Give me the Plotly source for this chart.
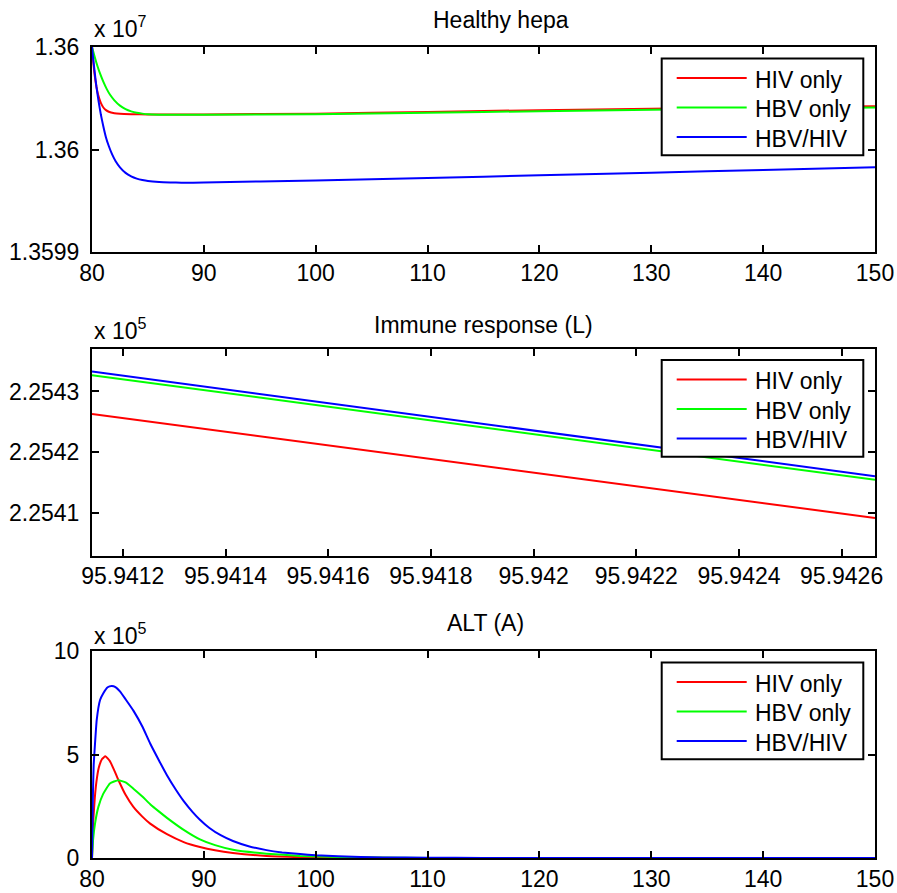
import plotly.graph_objects as go

# ---------------- data ----------------
series_names = ["HIV only", "HBV only", "HBV/HIV"]
series_colors = ["#ff0000", "#00ff00", "#0000ff"]

# Panel 1: Healthy hepatocytes
hepa_t_hiv = [80, 80.1, 80.2, 80.3, 80.4, 80.5, 80.65, 80.8, 81.0, 81.25, 81.5, 82.0, 82.5, 83.5, 85,
              87, 90, 100, 110, 120, 130, 140, 150]
hepa_hiv = [13600000, 13599935, 13599880, 13599838, 13599805, 13599778, 13599748, 13599726, 13599706,
            13599692, 13599684, 13599677, 13599674, 13599672, 13599671,
            13599671, 13599671, 13599675, 13599683, 13599692, 13599699, 13599706, 13599711]
hepa_t_hbv = [80, 80.25, 80.5, 80.75, 81.0, 81.3, 81.6, 82.0, 82.5, 83.0, 83.5, 84.0, 84.5, 85.0, 86.0,
              87.0, 90, 100, 110, 120, 130, 140, 150]
hepa_hbv = [13600000, 13599950, 13599905, 13599866, 13599832, 13599797, 13599768, 13599740, 13599714,
            13599697, 13599686, 13599679, 13599675, 13599672, 13599670,
            13599669, 13599669, 13599672, 13599679, 13599687, 13599694, 13599700, 13599705]
hepa_t_co = [80, 80.1, 80.25, 80.4, 80.6, 80.8, 81.0, 81.25, 81.5, 81.8, 82.1, 82.5, 83.0, 83.5, 84.0,
             84.5, 85.0, 86.0, 87.0, 88.0, 90, 100, 110, 120, 130, 140, 150]
hepa_co = [13600000, 13599945, 13599873, 13599805, 13599731, 13599668, 13599616, 13599559, 13599517,
           13599476, 13599444, 13599413, 13599386, 13599369, 13599358, 13599351, 13599346, 13599341,
           13599339, 13599338, 13599339, 13599349, 13599361, 13599374, 13599387, 13599400, 13599413]

# Panel 2: Immune response (L), zoomed window
imm_t = [95.94114, 95.942665]
imm_hiv = [225426.3, 225409.1]
imm_hbv = [225432.7, 225415.4]
imm_co = [225433.3, 225416.0]

# Panel 3: ALT (A)
alt_t_hiv = [80, 80.1, 80.25, 80.4, 80.6, 80.9, 81.2, 81.6, 82.0, 82.35, 83.0, 83.7, 84.5, 85.2, 86.7,
             88.2, 89.65, 91, 92.6, 95.6, 98.6, 102, 105, 110, 120, 130, 140, 150]
alt_hiv = [0, 170000, 290000, 370000, 435000, 478000, 492000, 468000, 422000, 378000, 305000, 247000,
           200000, 166000, 115000, 77000, 53000, 37000, 24000, 10000, 5000, 2000, 800, 200, 0, 0, 0, 0]
alt_t_hbv = [80, 80.1, 80.27, 80.57, 81.0, 81.6, 82.35, 83.0, 83.7, 84.5, 85.2, 86.0, 86.7, 88.2, 89.65,
             91, 92.6, 95.6, 98.6, 102, 105, 110, 120, 130, 140, 150]
alt_hbv = [0, 90000, 166000, 247000, 310000, 360000, 376000, 365000, 335000, 297000, 260000, 224000,
           194000, 136000, 90000, 62000, 40000, 21000, 10000, 5000, 2000, 500, 0, 0, 0, 0]
alt_t_co = [80, 80.08, 80.15, 80.27, 80.42, 80.72, 81.0, 81.4, 81.76, 82.1, 82.5, 83.0, 83.7, 84.5,
            85.2, 86.0, 86.7, 87.5, 88.2, 89.0, 89.65, 90.5, 91.5, 92.6, 94, 95.6, 97, 98.6, 100, 102,
            106, 110, 115, 120, 130, 140, 150]
alt_co = [0, 300000, 450000, 553000, 666000, 763000, 795000, 825000, 831000, 826000, 805000, 767000,
          712000, 635000, 553000, 470000, 400000, 330000, 275000, 222000, 185000, 145000, 110000, 82000,
          57000, 38000, 27000, 19000, 13000, 8000, 3000, 1200, 400, 0, 0, 0, 0]

titles = ["Healthy hepa", "Immune response (L)", "ALT (A)"]
exponents = ["7", "5", "5"]

x13_ticks = [80, 90, 100, 110, 120, 130, 140, 150]
x2_ticks = [95.9412, 95.9414, 95.9416, 95.9418, 95.9420, 95.9422, 95.9424, 95.9426]
x2_labels = ["95.9412", "95.9414", "95.9416", "95.9418", "95.942", "95.9422", "95.9424", "95.9426"]
y1_ticks = [13599000, 13599500, 13600000]
y1_labels = ["1.3599", "1.36", "1.36"]
y2_ticks = [225410, 225420, 225430]
y2_labels = ["2.2541", "2.2542", "2.2543"]
y3_ticks = [0, 500000, 1000000]
y3_labels = ["0", "5", "10"]

# ---------------- layout geometry (pixels) ----------------
W, H = 897, 893
ML, MR, MT, MB = 92, 22, 47, 35
PW = W - ML - MR
PH = H - MT - MB
BOT = MT + PH


def pxx(p):
    return (p - ML) / PW


def pxy(p):
    return (BOT - p) / PH


panel_px = [(47, 252), (348.5, 555.5), (651, 858)]

FONT = "Liberation Sans, Arial, Helvetica, sans-serif"
FS = 23

fig = go.Figure()

panel_data = [
    [(hepa_t_hiv, hepa_hiv), (hepa_t_hbv, hepa_hbv), (hepa_t_co, hepa_co)],
    [(imm_t, imm_hiv), (imm_t, imm_hbv), (imm_t, imm_co)],
    [(alt_t_hiv, alt_hiv), (alt_t_hbv, alt_hbv), (alt_t_co, alt_co)],
]

for i, pdata in enumerate(panel_data):
    suffix = "" if i == 0 else str(i + 1)
    for (xs, ys), name, col in zip(pdata, series_names, series_colors):
        fig.add_trace(go.Scatter(
            x=xs, y=ys, mode="lines", name=name,
            line=dict(color=col, width=2, shape="spline", smoothing=0.4),
            xaxis="x" + suffix, yaxis="y" + suffix, showlegend=False,
        ))

axis_common = dict(
    showline=True, linecolor="black", linewidth=2, mirror="ticks",
    ticks="inside", ticklen=7, tickwidth=2, tickcolor="black",
    showgrid=False, zeroline=False, automargin=False,
    tickfont=dict(family=FONT, size=FS, color="black"),
)

layout = dict(
    width=W, height=H,
    margin=dict(l=ML, r=MR, t=MT, b=MB, pad=0),
    paper_bgcolor="white", plot_bgcolor="white",
    font=dict(family=FONT, size=FS, color="black"),
    showlegend=False,
)

x_specs = [
    dict(range=[80, 150], tickvals=x13_ticks, ticktext=[str(v) for v in x13_ticks]),
    dict(range=[95.94114, 95.942665], tickvals=x2_ticks, ticktext=x2_labels),
    dict(range=[80, 150], tickvals=x13_ticks, ticktext=[str(v) for v in x13_ticks]),
]
y_specs = [
    dict(range=[13599000, 13600000], tickvals=y1_ticks, ticktext=y1_labels),
    dict(range=[225402.9, 225437.1], tickvals=y2_ticks, ticktext=y2_labels),
    dict(range=[0, 1000000], tickvals=y3_ticks, ticktext=y3_labels),
]

for i in range(3):
    suffix = "" if i == 0 else str(i + 1)
    top, bot = panel_px[i]
    layout["xaxis" + suffix] = dict(axis_common, domain=[0, 1], anchor="y" + suffix,
                                    ticklabelstandoff=-1, **x_specs[i])
    layout["yaxis" + suffix] = dict(axis_common, domain=[max(0, pxy(bot)), min(1, pxy(top))],
                                    anchor="x" + suffix, ticklabelstandoff=6, **y_specs[i])

fig.update_layout(**layout)

# titles, exponents, legends
title_px = [(501, 20), (483.5, 325), (485.5, 623)]
exp_py = [27, 329, 634]
shapes = []
annotations = []
for i in range(3):
    top, bot = panel_px[i]
    tx, ty = title_px[i]
    annotations.append(dict(text=titles[i], x=pxx(tx), y=pxy(ty), xref="paper", yref="paper",
                            xanchor="center", yanchor="middle", showarrow=False,
                            font=dict(family=FONT, size=FS, color="black")))
    annotations.append(dict(text="x 10<sup>" + exponents[i] + "</sup>", x=pxx(92), y=pxy(exp_py[i]),
                            xref="paper", yref="paper", xanchor="left", yanchor="middle",
                            showarrow=False, font=dict(family=FONT, size=FS, color="black")))
    # legend box
    bt = top + 11.5
    bb = bt + 96.7
    bl, br = 661.7, 863.3
    shapes.append(dict(type="rect", xref="paper", yref="paper",
                       x0=pxx(bl), x1=pxx(br), y0=pxy(bb), y1=pxy(bt),
                       line=dict(color="black", width=2), fillcolor="white", layer="above"))
    for k, (name, col) in enumerate(zip(series_names, series_colors)):
        ey = bt + 19.4 + 29.5 * k
        shapes.append(dict(type="line", xref="paper", yref="paper",
                           x0=pxx(676.7), x1=pxx(746.7), y0=pxy(ey), y1=pxy(ey),
                           line=dict(color=col, width=2), layer="above"))
        annotations.append(dict(text=name, x=pxx(753), y=pxy(ey + 2), xref="paper", yref="paper",
                                xanchor="left", yanchor="middle", showarrow=False,
                                font=dict(family=FONT, size=FS, color="black")))

fig.update_layout(shapes=shapes, annotations=annotations)
fig.write_html("out.html", config={"displayModeBar": False},
               post_script="document.body.style.margin='0px';")
